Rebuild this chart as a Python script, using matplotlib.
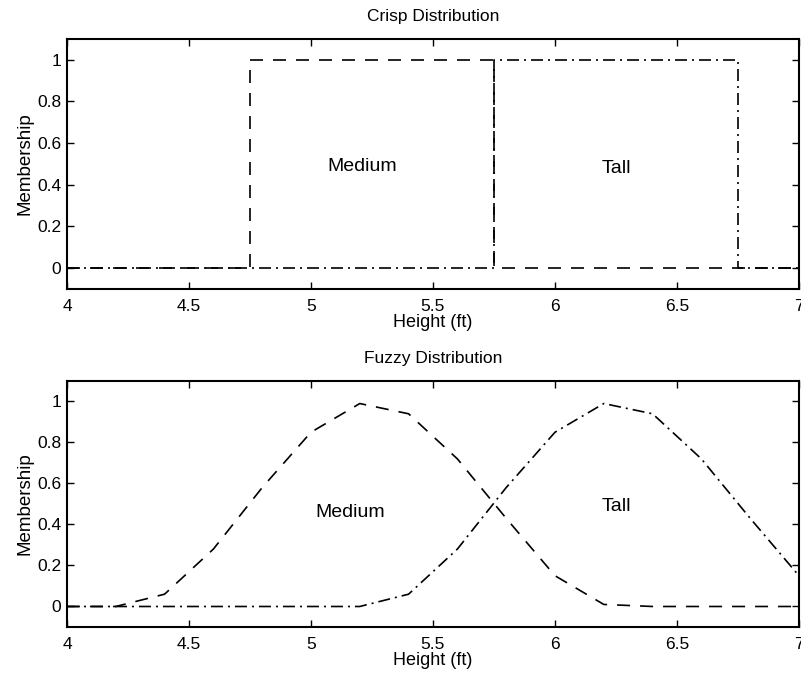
import matplotlib
matplotlib.use('Agg')
import matplotlib.pyplot as plt

plt.rcParams['font.family'] = ['Liberation Sans', 'DejaVu Sans']

# crisp sets (breakpoints)
crisp_med_x = [4.0, 4.75, 4.75, 5.75, 5.75, 7.0]
crisp_med_y = [0, 0, 1, 1, 0, 0]
crisp_tall_x = [4.0, 5.75, 5.75, 6.75, 6.75, 7.0]
crisp_tall_y = [0, 0, 1, 1, 0, 0]

# fuzzy sets sampled every 0.2 ft
height = [4.0, 4.2, 4.4, 4.6, 4.8, 5.0, 5.2, 5.4, 5.6, 5.8,
          6.0, 6.2, 6.4, 6.6, 6.8, 7.0]
fuzzy_med = [0, 0.0, 0.06, 0.28, 0.58, 0.85, 0.99, 0.94, 0.72, 0.43,
             0.15, 0.01, 0, 0, 0, 0]
fuzzy_tall = [0, 0, 0, 0, 0, 0, 0.0, 0.06, 0.28, 0.58,
              0.85, 0.99, 0.94, 0.72, 0.43, 0.15]

xticks = [4, 4.5, 5, 5.5, 6, 6.5, 7]
xticklabels = ['4', '4.5', '5', '5.5', '6', '6.5', '7']
yticks = [0, 0.2, 0.4, 0.6, 0.8, 1]
yticklabels = ['0', '0.2', '0.4', '0.6', '0.8', '1']

LW = 1.2
dash = (0, (7.8, 6.0))
dashdot = (0, (7.2, 3.0, 1.2, 3.0))

fig = plt.figure(figsize=(8.01, 6.79), dpi=100)
ax1 = fig.add_axes([0.0836, 0.5744, 0.9139, 0.3682])
ax2 = fig.add_axes([0.0836, 0.0766, 0.9139, 0.3623])


def style(ax, title):
    ax.set_xlim(4, 7)
    ax.set_ylim(-0.1, 1.1)
    ax.set_xticks(xticks)
    ax.set_xticklabels(xticklabels)
    ax.set_yticks(yticks)
    ax.set_yticklabels(yticklabels)
    ax.tick_params(direction='in', length=5, width=1, top=True, right=True,
                   labelsize=12.5)
    ax.tick_params(axis='x', pad=7)
    ax.tick_params(axis='y', pad=4)
    for s in ax.spines.values():
        s.set_linewidth(1.5)
    ax.set_title(title, fontsize=12.5, pad=13)
    ax.set_xlabel('Height (ft)', fontsize=13, labelpad=0)
    ax.set_ylabel('Membership', fontsize=13.5, labelpad=3)


ax1.plot(crisp_med_x, crisp_med_y, color='k', lw=LW, linestyle=dash)
ax1.plot(crisp_tall_x, crisp_tall_y, color='k', lw=LW, linestyle=dashdot)
ax1.text(5.21, 0.49, 'Medium', fontsize=14, ha='center', va='center')
ax1.text(6.25, 0.48, 'Tall', fontsize=14, ha='center', va='center')
style(ax1, 'Crisp Distribution')

ax2.plot(height, fuzzy_med, color='k', lw=LW, linestyle=dash)
ax2.plot(height, fuzzy_tall, color='k', lw=LW, linestyle=dashdot)
ax2.text(5.16, 0.46, 'Medium', fontsize=14, ha='center', va='center')
ax2.text(6.25, 0.49, 'Tall', fontsize=14, ha='center', va='center')
style(ax2, 'Fuzzy Distribution')

fig.savefig('out.png', dpi=100)
